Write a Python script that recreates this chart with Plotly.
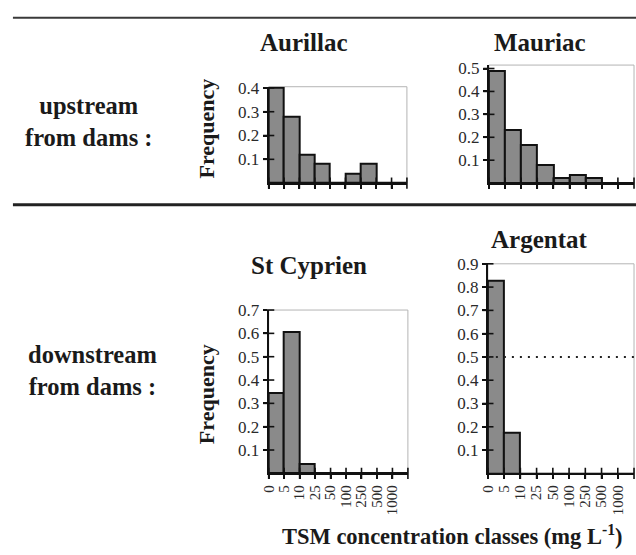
import plotly.graph_objects as go

# ---------------- data ----------------
classes = ["0", "5", "10", "25", "50", "100", "250", "500", "1000"]
aurillac = [0.40, 0.28, 0.12, 0.08, 0.0, 0.04, 0.08, 0.0, 0.0]
mauriac = [0.49, 0.23, 0.165, 0.08, 0.02, 0.035, 0.02, 0.0, 0.0]
st_cyprien = [0.345, 0.605, 0.042, 0.0, 0.0, 0.0, 0.0, 0.0, 0.0]
argentat = [0.826, 0.174, 0.0, 0.0, 0.0, 0.0, 0.0, 0.0, 0.0]
stations = ["Aurillac", "Mauriac", "St Cyprien", "Argentat"]
yticks_aurillac = [0.1, 0.2, 0.3, 0.4]
yticks_mauriac = [0.1, 0.2, 0.3, 0.4, 0.5]
yticks_st_cyprien = [0.1, 0.2, 0.3, 0.4, 0.5, 0.6, 0.7]
yticks_argentat = [0.1, 0.2, 0.3, 0.4, 0.5, 0.6, 0.7, 0.8, 0.9]
argentat_reference = 0.5
row_labels = ["upstream<br>from dams :", "downstream<br>from dams :"]
y_title = "Frequency"
x_title = "TSM concentration classes (mg L<sup>-1</sup>)"

# ---------------- layout helpers ----------------
W, H = 636, 555
SERIF = "Liberation Serif"
INK = "#1a1a1a"
BAR = "#8a8a8a"


def px_x(a, b):
    return [a / W, b / W]


def px_y(top, bottom):
    return [1 - bottom / H, 1 - top / H]


panels = [
    dict(name=stations[0], vals=aurillac, ticks=yticks_aurillac, xd=(264, 404), yd=(79, 177), ymax=0.405, labels=False),
    dict(name=stations[1], vals=mauriac, ticks=yticks_mauriac, xd=(487, 634), yd=(57, 177), ymax=0.515, labels=False),
    dict(name=stations[2], vals=st_cyprien, ticks=yticks_st_cyprien, xd=(264, 405), yd=(306, 472), ymax=0.7, labels=True),
    dict(name=stations[3], vals=argentat, ticks=yticks_argentat, xd=(486, 634), yd=(259, 472), ymax=0.9, labels=True),
]

fig = go.Figure()
n = len(classes)
edges = list(range(n + 1))
centers = [i + 0.5 for i in range(n)]

layout = dict(
    width=W, height=H,
    margin=dict(l=0, r=0, t=0, b=0),
    paper_bgcolor="white", plot_bgcolor="white",
    showlegend=False,
    bargap=0,
    font=dict(family=SERIF, color=INK),
)
shapes = []

for k, p in enumerate(panels, start=1):
    xa = "x" if k == 1 else f"x{k}"
    ya = "y" if k == 1 else f"y{k}"
    fig.add_trace(go.Bar(
        x=centers, y=p["vals"], width=1.0, xaxis=xa, yaxis=ya,
        marker=dict(color=BAR, line=dict(color="#111111", width=2)),
        hoverinfo="skip",
    ))
    # inner half of the crossing tick marks
    fig.add_trace(go.Scatter(
        x=edges, y=[0] * len(edges), xaxis=xa, yaxis=ya, mode="markers",
        marker=dict(symbol="line-ns", size=8, line=dict(color="#111111", width=1.6)),
        cliponaxis=False, hoverinfo="skip",
    ))
    fig.add_trace(go.Scatter(
        x=[0] * len(p["ticks"]), y=p["ticks"], xaxis=xa, yaxis=ya, mode="markers",
        marker=dict(symbol="line-ew", size=8, line=dict(color="#111111", width=1.6)),
        cliponaxis=False, hoverinfo="skip",
    ))
    key_x = "xaxis" if k == 1 else f"xaxis{k}"
    key_y = "yaxis" if k == 1 else f"yaxis{k}"
    layout[key_x] = dict(
        domain=px_x(*p["xd"]), anchor=ya, range=[0, n],
        showgrid=False, zeroline=False,
        showline=True, linecolor="#111111", linewidth=2,
        ticks="outside", ticklen=4, tickwidth=1.6, tickcolor="#111111",
        tickmode="array", tickvals=edges[:n], ticktext=classes,
        showticklabels=p["labels"], tickangle=-90,
        tickfont=dict(family=SERIF, size=15, color="#2a2a2a"),
        fixedrange=True,
    )
    layout[key_y] = dict(
        domain=px_y(*p["yd"]), anchor=xa, range=[0, p["ymax"]],
        showgrid=False, zeroline=False,
        showline=True, linecolor="#111111", linewidth=2,
        ticks="outside", ticklen=4, tickwidth=1.6, tickcolor="#111111",
        tickmode="array", tickvals=p["ticks"],
        ticktext=[f"{v:.1f}" for v in p["ticks"]],
        tickfont=dict(family=SERIF, size=17, color="#2a2a2a"),
        fixedrange=True,
    )
    shapes.append(dict(
        type="rect", xref=f"{xa} domain", yref=f"{ya} domain",
        x0=0, x1=1, y0=0, y1=1, layer="below",
        line=dict(color="#b4b4b4", width=1),
    ))

# dotted reference line on Argentat
fig.add_trace(go.Scatter(
    x=[0, n], y=[argentat_reference, argentat_reference], xaxis="x4", yaxis="y4",
    mode="lines", line=dict(color="#222222", width=2, dash="2px,6px"),
    hoverinfo="skip",
))

# horizontal separator rules
shapes.append(dict(type="line", xref="paper", yref="paper", x0=5 / W, x1=1,
                   y0=1 - 9 / H, y1=1 - 9 / H, line=dict(color="#3a3a3a", width=2)))
shapes.append(dict(type="line", xref="paper", yref="paper", x0=5 / W, x1=1,
                   y0=1 - 199 / H, y1=1 - 199 / H, line=dict(color="#222222", width=3)))
layout["shapes"] = shapes

ann = []
title_pos = [(300, 34), (539, 34), (305, 261), (538, 234)]
for p, (tx, ty) in zip(panels, title_pos):
    ann.append(dict(xref="paper", yref="paper", x=tx / W, y=1 - ty / H,
                    text=f"<b>{p['name']}</b>", showarrow=False,
                    xanchor="center", yanchor="middle",
                    font=dict(family=SERIF, size=25, color=INK)))
for lbl, (tx, ty) in zip(row_labels, [(82, 114), (86, 367)]):
    ann.append(dict(xref="paper", yref="paper", x=tx / W, y=1 - ty / H,
                    text=f"<b>{lbl}</b>", showarrow=False, align="center",
                    xanchor="center", yanchor="middle",
                    font=dict(family=SERIF, size=24.5, color=INK)))
for tx, ty in [(201, 121), (201, 391)]:
    ann.append(dict(xref="paper", yref="paper", x=tx / W, y=1 - ty / H,
                    text=f"<b>{y_title}</b>", showarrow=False, textangle=-90,
                    xanchor="center", yanchor="middle",
                    font=dict(family=SERIF, size=22, color=INK)))
ann.append(dict(xref="paper", yref="paper", x=450 / W, y=1 - 535 / H,
                text=f"<b>{x_title}</b>", showarrow=False,
                xanchor="center", yanchor="middle",
                font=dict(family=SERIF, size=22.5, color=INK)))
layout["annotations"] = ann

fig.update_layout(**layout)
fig.write_html("out.html")
